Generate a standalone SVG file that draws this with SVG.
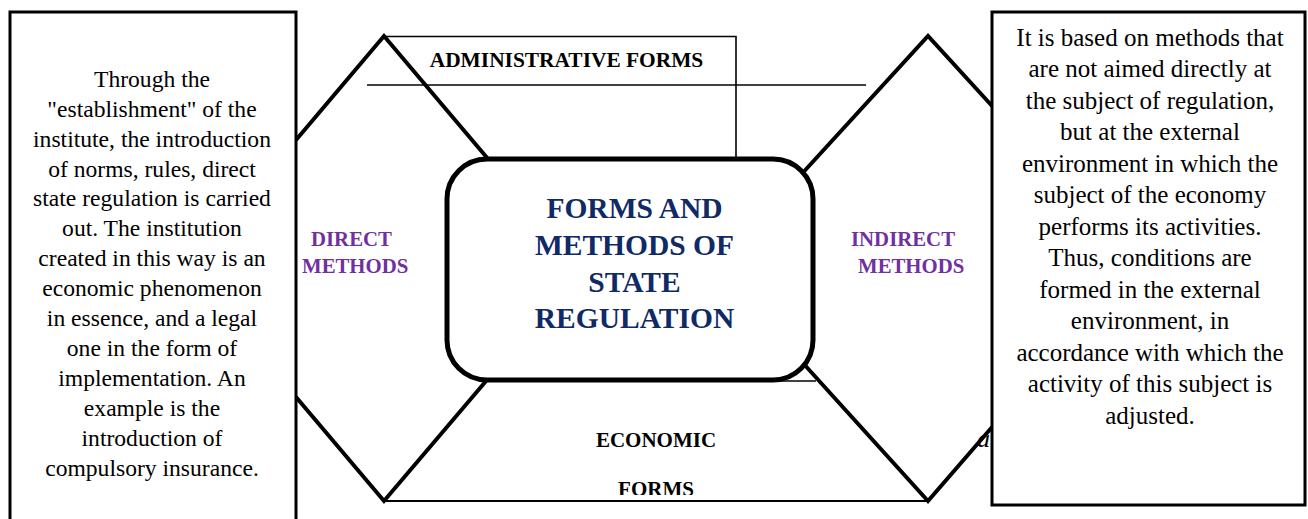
<svg xmlns="http://www.w3.org/2000/svg" width="1308" height="519" viewBox="0 0 1308 519">
  <style>
    text { font-family: "Liberation Serif", "Times New Roman", serif; }
    .body { font-size: 23.6px; fill: #000; text-anchor: middle; }
    .bodyR { font-size: 25px; fill: #000; text-anchor: middle; }
    .title { font-size: 29.5px; font-weight: bold; fill: #0f2a66; text-anchor: middle; }
    .form { font-size: 21px; font-weight: bold; fill: #000; text-anchor: middle; }
    .method { font-size: 20.8px; font-weight: bold; fill: #7030a0; }
    .zig { fill: none; stroke: #000; stroke-width: 4; stroke-linejoin: miter; }
    .thin { fill: none; stroke: #000; stroke-width: 1.6; }
    .box { fill: #fff; stroke: #000; stroke-width: 3; }
  </style>
  <defs>
    <clipPath id="formsClip">
      <rect x="560" y="460" width="200" height="35"/>
    </clipPath>
  </defs>
  <rect width="1308" height="519" fill="#fff"/>

  <!-- connectors: zigzag arms and form outlines around the centre -->
  <g id="connectors">
    <polyline class="thin" points="384,36.5 736,36.5 736,162"/>
    <line class="thin" x1="367" y1="85" x2="866" y2="85"/>
    <line class="thin" x1="700" y1="381" x2="816" y2="381"/>
    <line class="thin" x1="384" y1="501" x2="928" y2="501" style="stroke-width:2.2"/>
    <polyline class="zig" points="296,140 384,36 494,166"/>
    <polyline class="zig" points="798,178 928,36 993,107"/>
    <polyline class="zig" points="296,397 384,501 492,374"/>
    <polyline class="zig" points="802,362 928,501 993,426"/>
  </g>

  <!-- stray italic glyph partly under the right box -->
  <text x="977" y="447" font-style="italic" font-size="26">a</text>

  <g id="admin-forms">
    <text class="form" x="566.5" y="67" style="font-size:21.4px">ADMINISTRATIVE FORMS</text>
  </g>

  <g id="economic-forms">
    <text class="form" x="656" y="447">ECONOMIC</text>
    <text class="form" x="656" y="496" clip-path="url(#formsClip)">FORMS</text>
  </g>

  <g id="direct-methods">
    <text class="method" x="311" y="246">DIRECT</text>
    <text class="method" x="302" y="273">METHODS</text>
  </g>

  <g id="indirect-methods">
    <text class="method" x="851" y="246">INDIRECT</text>
    <text class="method" x="858" y="273">METHODS</text>
  </g>

  <g id="direct-description">
    <rect class="box" x="10" y="12" width="286" height="530"/>
    <text class="body" x="152" y="87">Through the</text>
    <text class="body" x="152" y="117">"establishment" of the</text>
    <text class="body" x="152" y="147">institute, the introduction</text>
    <text class="body" x="152" y="177">of norms, rules, direct</text>
    <text class="body" x="152" y="206">state regulation is carried</text>
    <text class="body" x="152" y="236">out. The institution</text>
    <text class="body" x="152" y="266">created in this way is an</text>
    <text class="body" x="152" y="296">economic phenomenon</text>
    <text class="body" x="152" y="326">in essence, and a legal</text>
    <text class="body" x="152" y="356">one in the form of</text>
    <text class="body" x="152" y="386">implementation. An</text>
    <text class="body" x="152" y="416">example is the</text>
    <text class="body" x="152" y="446">introduction of</text>
    <text class="body" x="152" y="476">compulsory insurance.</text>
  </g>

  <g id="indirect-description">
    <rect class="box" x="992" y="12" width="313" height="493"/>
    <text class="bodyR" x="1150" y="46">It is based on methods that</text>
    <text class="bodyR" x="1150" y="77">are not aimed directly at</text>
    <text class="bodyR" x="1150" y="109">the subject of regulation,</text>
    <text class="bodyR" x="1150" y="140">but at the external</text>
    <text class="bodyR" x="1150" y="172">environment in which the</text>
    <text class="bodyR" x="1150" y="203">subject of the economy</text>
    <text class="bodyR" x="1150" y="235">performs its activities.</text>
    <text class="bodyR" x="1150" y="266">Thus, conditions are</text>
    <text class="bodyR" x="1150" y="298">formed in the external</text>
    <text class="bodyR" x="1150" y="329">environment, in</text>
    <text class="bodyR" x="1150" y="361">accordance with which the</text>
    <text class="bodyR" x="1150" y="392">activity of this subject is</text>
    <text class="bodyR" x="1150" y="424">adjusted.</text>
  </g>

  <g id="central-node">
    <rect x="447" y="159" width="366" height="221" rx="40" ry="40" fill="#fff" stroke="#000" stroke-width="5"/>
    <text class="title" x="634.5" y="218">FORMS AND</text>
    <text class="title" x="634.5" y="255">METHODS OF</text>
    <text class="title" x="634.5" y="292">STATE</text>
    <text class="title" x="634.5" y="328">REGULATION</text>
  </g>
</svg>
